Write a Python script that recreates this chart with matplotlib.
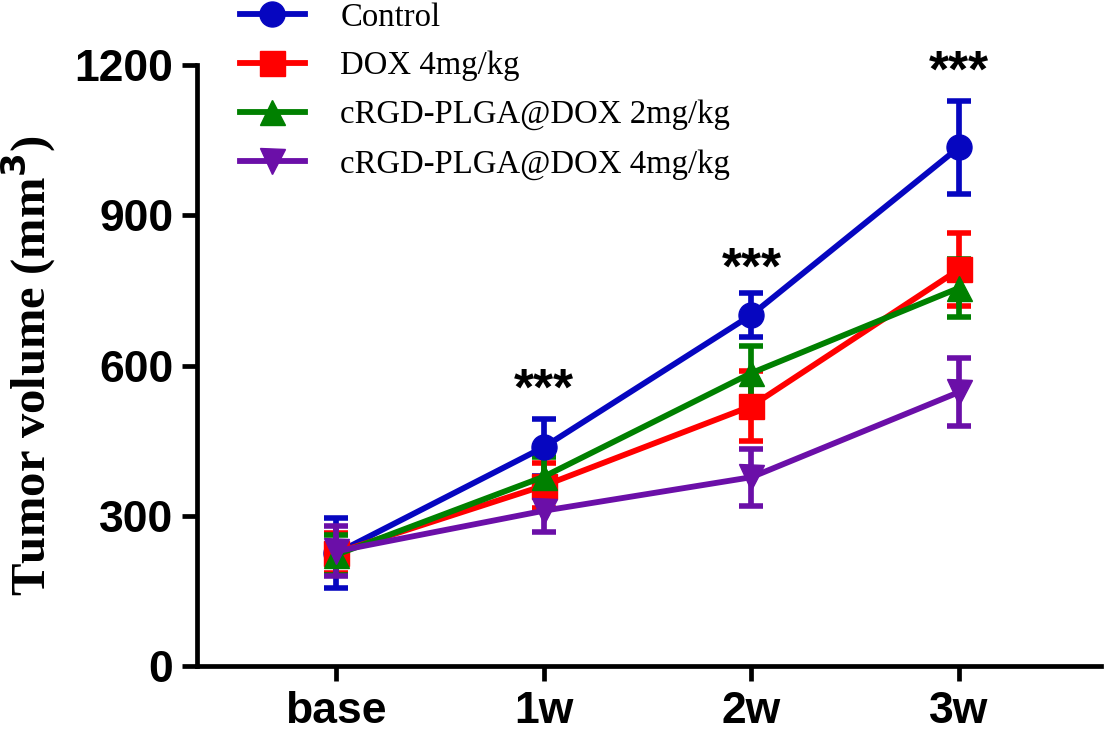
import matplotlib
matplotlib.use("Agg")
import matplotlib.pyplot as plt
import numpy as np

# ---- data ----
time_labels = ["base", "1w", "2w", "3w"]
series_names = ["Control", "DOX 4mg/kg", "cRGD-PLGA@DOX 2mg/kg", "cRGD-PLGA@DOX 4mg/kg"]
control_mean = [225, 437, 701, 1036]
control_err = [70, 57, 44, 93]
dox_mean = [226, 360, 519, 792]
dox_err = [40, 45, 70, 73]
crgd2_mean = [222, 378, 585, 755]
crgd2_err = [40, 40, 54, 58]
crgd4_mean = [229, 310, 377, 547]
crgd4_err = [50, 42, 57, 68]
sig_labels = ["", "***", "***", "***"]
sig_y = [0, 522, 764, 1156]

colors = ["#0606C0", "#FF0000", "#008000", "#6B0FA8"]
markers = ["o", "s", "^", "v"]
means = [control_mean, dox_mean, crgd2_mean, crgd4_mean]
errs = [control_err, dox_err, crgd2_err, crgd4_err]

fig = plt.figure(figsize=(11.04, 7.35), dpi=100)
ax = fig.add_axes([197 / 1104, 69 / 735, (1101 - 197) / 1104, (666 - 65) / 735])

x = np.arange(len(time_labels))
handles = []
for m, e, c, mk, name in zip(means, errs, colors, markers, series_names):
    eb = ax.errorbar(x, m, yerr=e, color=c, marker=mk, markersize=18,
                     linewidth=4.2, elinewidth=4.1, capsize=8.6, capthick=4.0,
                     label=name, clip_on=False, zorder=3)
    handles.append(eb)

for xi, s, yy in zip(x, sig_labels, sig_y):
    if s:
        ax.text(xi, yy, s, ha="center", va="baseline", fontsize=37,
                fontweight="bold", family="Liberation Sans")

ax.set_xlim(-0.67, 3.683)
ax.set_ylim(0, 1200)
ax.set_yticks([0, 300, 600, 900, 1200])
ax.set_xticks(x)
ax.set_xticklabels(time_labels)

for sp in ["top", "right"]:
    ax.spines[sp].set_visible(False)
for sp in ["left", "bottom"]:
    ax.spines[sp].set_linewidth(3.4)
    ax.spines[sp].set_capstyle("projecting")

ax.tick_params(axis="both", width=3.4, length=11, labelsize=32)
ax.tick_params(axis="y", pad=6)
ax.tick_params(axis="x", pad=7)
for lbl in ax.get_xticklabels() + ax.get_yticklabels():
    lbl.set_fontfamily("Liberation Sans")
    lbl.set_fontweight("bold")

ax.set_ylabel("Tumor volume (mm$^\\mathbf{3}$)", fontsize=35, fontweight="bold",
              family="Liberation Serif", labelpad=12)

leg = fig.legend(handles=[h[0] for h in handles], labels=series_names,
                 loc="upper left", bbox_to_anchor=(240 / 1104, 1.0 - 2 / 735),
                 frameon=False, prop={"family": "Liberation Serif", "size": 23.6},
                 handlelength=1.98, handletextpad=1.08, labelspacing=0.56,
                 borderaxespad=0, borderpad=0)

fig.savefig("out.png", dpi=100)
